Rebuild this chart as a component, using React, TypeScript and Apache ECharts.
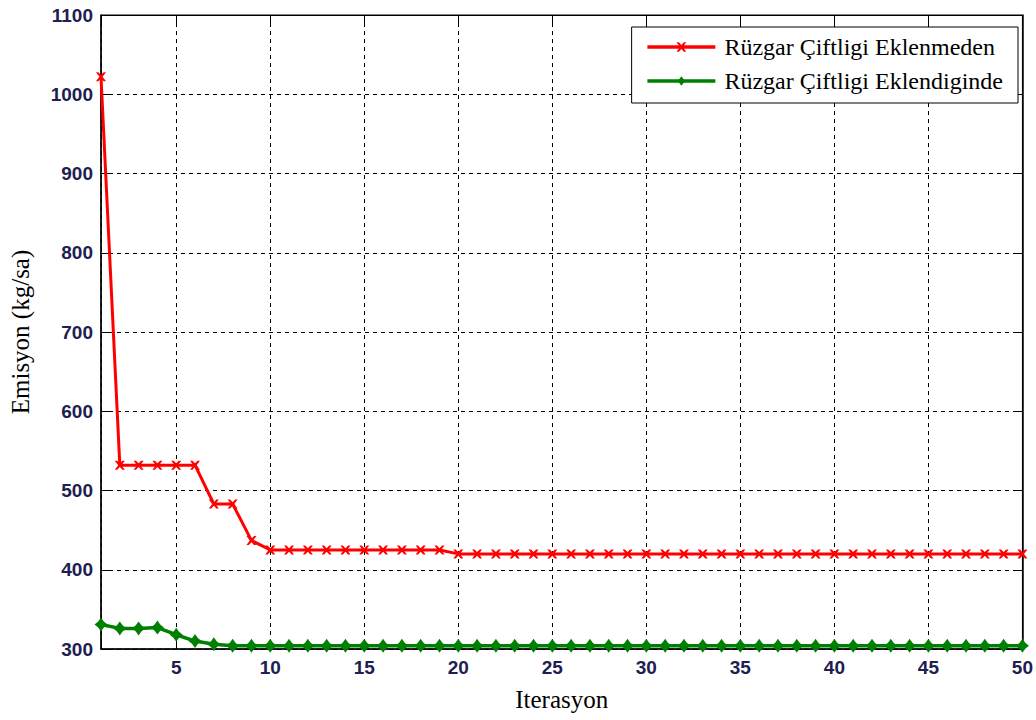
import React, { useEffect, useRef } from "react";
import * as echarts from "echarts";

const iterations: number[] = Array.from({ length: 50 }, (_, i) => i + 1);

const redName = "Rüzgar Çiftligi Eklenmeden";
const greenName = "Rüzgar Çiftligi Eklendiginde";

const redValues: number[] = [
  1022, 532, 532, 532, 532, 532, 483, 483, 437, 425,
  425, 425, 425, 425, 425, 425, 425, 425, 425, 420,
  420, 420, 420, 420, 420, 420, 420, 420, 420, 420,
  420, 420, 420, 420, 420, 420, 420, 420, 420, 420,
  420, 420, 420, 420, 420, 420, 420, 420, 420, 420,
];

const greenValues: number[] = [
  331, 326, 326, 327, 318, 310, 306, 304, 304, 304,
  304, 304, 304, 304, 304, 304, 304, 304, 304, 304,
  304, 304, 304, 304, 304, 304, 304, 304, 304, 304,
  304, 304, 304, 304, 304, 304, 304, 304, 304, 304,
  304, 304, 304, 304, 304, 304, 304, 304, 304, 304,
];

const xTitle = "Iterasyon";
const yTitle = "Emisyon (kg/sa)";

const xMin = 1;
const xMax = 50;
const yMin = 300;
const yMax = 1100;
const yStep = 100;

const xMarker =
  "path://M-5,-5 L-2.6,-5 L0,-2 L2.6,-5 L5,-5 L1.6,0 L5,5 L2.6,5 L0,2 L-2.6,5 L-5,5 L-1.6,0 Z";
const starMarker =
  "path://M0,-6 L2.6,-2.6 L6,0 L2.6,2.6 L0,6 L-2.6,2.6 L-6,0 L-2.6,-2.6 Z";

export default function App() {
  const ref = useRef<HTMLDivElement>(null);

  useEffect(() => {
    if (!ref.current) return;
    const chart = echarts.init(ref.current, undefined, { renderer: "svg" });
    const tickColor = "#202050";
    const sans = "'Liberation Sans', Arial, sans-serif";
    const serif = "'Liberation Serif', 'Times New Roman', serif";

    chart.setOption({
      animation: false,
      backgroundColor: "#ffffff",
      grid: {
        left: 101,
        right: 10,
        top: 15,
        bottom: 71,
        show: true,
        borderColor: "#000",
        borderWidth: 1,
        backgroundColor: "transparent",
      },
      legend: {
        orient: "vertical",
        right: 18,
        top: 27,
        backgroundColor: "#ffffff",
        borderColor: "#000",
        borderWidth: 1,
        borderRadius: 0,
        padding: [8, 15, 10, 14],
        itemGap: 10,
        itemWidth: 68,
        itemHeight: 12,
        lineStyle: { width: 3.5 },
        textStyle: {
          fontFamily: serif,
          fontSize: 24,
          color: "#000",
          padding: [0, 0, 0, 4],
        },
        data: [redName, greenName],
      },
      xAxis: [
        {
          type: "value",
          min: xMin,
          max: xMax,
          splitNumber: 10,
          name: xTitle,
          nameLocation: "middle",
          nameGap: 38,
          nameTextStyle: { fontFamily: serif, fontSize: 25, color: "#000" },
          axisLine: { show: true, lineStyle: { color: "#000", width: 1.5 } },
          axisTick: { show: true, inside: true, length: 8, lineStyle: { color: "#000" } },
          axisLabel: {
            fontFamily: sans,
            fontSize: 19,
            fontWeight: "bold",
            color: tickColor,
            margin: 9,
            formatter: (v: number) => (v === xMin ? "" : String(v)),
          },
          splitLine: {
            show: true,
            lineStyle: { color: "#000", type: [4, 4], width: 1 },
          },
        },
        {
          type: "value",
          position: "top",
          min: xMin,
          max: xMax,
          splitNumber: 10,
          axisLine: { show: true, lineStyle: { color: "#000", width: 1 } },
          axisTick: { show: true, inside: true, length: 8, lineStyle: { color: "#000" } },
          axisLabel: { show: false },
          splitLine: { show: false },
        },
      ],
      yAxis: [
        {
          type: "value",
          min: yMin,
          max: yMax,
          interval: yStep,
          name: yTitle,
          nameLocation: "middle",
          nameGap: 68,
          nameTextStyle: { fontFamily: serif, fontSize: 25, color: "#000" },
          axisLine: { show: true, lineStyle: { color: "#000", width: 1.5 } },
          axisTick: { show: true, inside: true, length: 8, lineStyle: { color: "#000" } },
          axisLabel: {
            fontFamily: sans,
            fontSize: 19,
            fontWeight: "bold",
            color: tickColor,
            margin: 8,
            formatter: (v: number) => String(v),
          },
          splitLine: {
            show: true,
            lineStyle: { color: "#000", type: [4, 4], width: 1 },
          },
        },
        {
          type: "value",
          position: "right",
          min: yMin,
          max: yMax,
          interval: yStep,
          axisLine: { show: true, lineStyle: { color: "#000", width: 1.5 } },
          axisTick: { show: true, inside: true, length: 8, lineStyle: { color: "#000" } },
          axisLabel: { show: false },
          splitLine: { show: false },
        },
      ],
      series: [
        {
          name: redName,
          type: "line",
          xAxisIndex: 0,
          yAxisIndex: 0,
          data: iterations.map((x, i) => [x, redValues[i]]),
          symbol: xMarker,
          symbolSize: [10, 9],
          showAllSymbol: true,
          lineStyle: { color: "#ff0000", width: 3 },
          itemStyle: { color: "#ff0000" },
          z: 3,
        },
        {
          name: greenName,
          type: "line",
          xAxisIndex: 0,
          yAxisIndex: 0,
          data: iterations.map((x, i) => [x, greenValues[i]]),
          symbol: starMarker,
          symbolSize: [13, 14],
          showAllSymbol: true,
          lineStyle: { color: "#008000", width: 3.5 },
          itemStyle: { color: "#008000" },
          z: 3,
        },
      ],
    });

    return () => chart.dispose();
  }, []);

  return (
    <div
      ref={ref}
      style={{ position: "fixed", left: 0, top: 0, width: 1036, height: 720 }}
    />
  );
}
